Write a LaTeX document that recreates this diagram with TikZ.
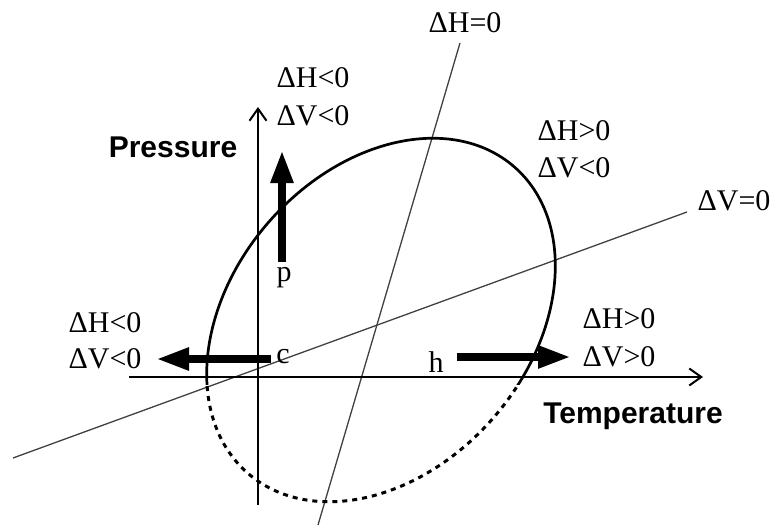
\documentclass[tikz,border=0pt]{standalone}
\usepackage{fontspec}
\setmainfont{Liberation Serif}
\newfontfamily\labelsans{Liberation Sans}
\usetikzlibrary{arrows.meta}
\tikzset{
  lbl/.style={inner sep=0pt, anchor=base, font=\fontsize{30}{34}\selectfont},
  axlbl/.style={inner sep=0pt, anchor=base, font=\labelsans\bfseries\fontsize{30}{34}\selectfont},
  axis/.style={line width=2pt, -{Straight Barb[length=12pt,width=17pt,line width=2pt]}},
  zeroline/.style={line width=1.3pt, black!75},
  bigarrow/.style={line width=8pt, -{Triangle[length=33pt,width=21pt]}},
  curve/.style={line width=2.7pt},
  dcurve/.style={line width=3pt, dash pattern=on 5pt off 5pt}
}
\begin{document}
\begin{tikzpicture}[x=1pt,y=-1pt]
\useasboundingbox (0,0) rectangle (774,527);
% zero lines
\coordinate (hA) at (460,43);
\coordinate (hB) at (318,525);
\coordinate (vA) at (687,212);
\coordinate (vB) at (13,458);
\draw[zeroline] (hA) -- (hB);
\draw[zeroline] (vA) -- (vB);
% axes
\coordinate (pBot) at (258,505);
\coordinate (pTop) at (258,107);
\coordinate (tL) at (129,377);
\coordinate (tR) at (703,377);
\draw[axis] (pBot) -- (pTop);
\draw[axis] (tL) -- (tR);
% ellipse
\coordinate (ec) at (381,320);
\begin{scope}
\clip (0,0) rectangle (774,384);
\draw[curve, shift={(ec)}, rotate=49] (0,0) ellipse [x radius=203, y radius=149];
\end{scope}
\begin{scope}
\clip (0,384) rectangle (774,527);
\draw[dcurve, shift={(ec)}, rotate=49] (0,0) ellipse [x radius=203, y radius=149];
\end{scope}
% thick arrows
\coordinate (pS) at (282,262);
\coordinate (pE) at (282,150);
\coordinate (cS) at (271,359);
\coordinate (cE) at (156,359);
\coordinate (hS) at (457,357);
\coordinate (hE) at (571,357);
\draw[bigarrow] (pS) -- (pE);
\draw[bigarrow] (cS) -- (cE);
\draw[bigarrow] (hS) -- (hE);
% labels
\node[lbl] (lHz) at (465,33) {ΔH=0};
\node[lbl] (lVz) at (734,210) {ΔV=0};
\node[lbl] (ur1) at (574,140) {ΔH>0};
\node[lbl] (ur2) at (574,177) {ΔV<0};
\node[lbl] (t1) at (313,88) {ΔH<0};
\node[lbl] (t2) at (313,125) {ΔV<0};
\node[lbl] (l1) at (105,332) {ΔH<0};
\node[lbl] (l2) at (105,368) {ΔV<0};
\node[lbl] (r1) at (619,328) {ΔH>0};
\node[lbl] (r2) at (619,366) {ΔV>0};
\node[axlbl] (press) at (173,157) {Pressure};
\node[axlbl] (temp) at (633,423) {Temperature};
\node[lbl] (pl) at (284,281) {p};
\node[lbl] (cl) at (283,363) {c};
\node[lbl] (hl) at (436,372) {h};
\end{tikzpicture}
\end{document}
